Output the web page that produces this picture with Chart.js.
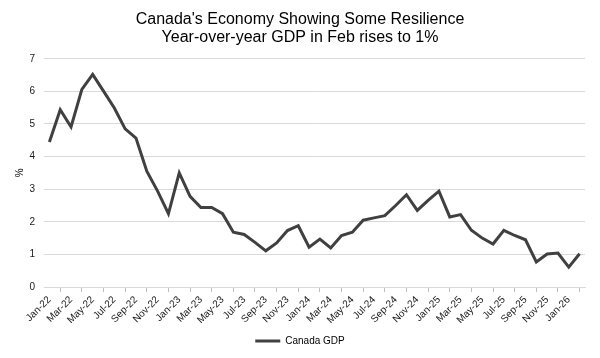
<!DOCTYPE html>
<html>
<head>
<meta charset="utf-8">
<script src="https://cdn.jsdelivr.net/npm/chart.js@4/dist/chart.umd.min.js"></script>
<style>
html,body{margin:0;padding:0;background:#fff;}
#wrap{width:600px;height:358px;position:relative;}
</style>
</head>
<body>
<div id="wrap"><canvas id="c" width="600" height="358"></canvas></div>
<script>
const months = ["Jan","Feb","Mar","Apr","May","Jun","Jul","Aug","Sep","Oct","Nov","Dec"];
const categories = [];
for (let y = 22; y <= 26; y++) {
  for (let m = 0; m < 12; m++) {
    if (y === 26 && m > 1) break;
    categories.push(months[m] + "-" + y);
  }
}
const gdpValues = [
  4.45, 5.44, 4.91, 6.06, 6.52, 6.01, 5.49, 4.85, 4.57, 3.55, 2.94, 2.25,
  3.50, 2.78, 2.44, 2.44, 2.25, 1.68, 1.61, 1.37, 1.11, 1.35, 1.73, 1.88,
  1.22, 1.47, 1.20, 1.58, 1.68, 2.05, 2.12, 2.19, 2.50, 2.83, 2.35, 2.66,
  2.94, 2.15, 2.22, 1.74, 1.50, 1.32, 1.74, 1.58, 1.45, 0.77, 1.01, 1.04,
  0.61, 1.02
];
const yTicks = [0,1,2,3,4,5,6,7];
const titleLines = ["Canada's Economy Showing Some Resilience", "Year-over-year GDP in Feb rises to 1%"];
const seriesName = "Canada GDP";

const FONT = "'Liberation Sans', Arial, sans-serif";

new Chart(document.getElementById('c'), {
  type: 'line',
  data: {
    labels: categories,
    datasets: [{
      label: seriesName,
      data: gdpValues,
      borderColor: '#404040',
      backgroundColor: '#404040',
      borderWidth: 3,
      pointRadius: 0,
      pointHoverRadius: 0,
      tension: 0,
      fill: false
    }]
  },
  options: {
    responsive: false,
    animation: false,
    layout: { padding: { left: 0, right: 0, top: 0, bottom: 2 } },
    plugins: {
      title: {
        display: true,
        text: titleLines,
        color: '#000',
        font: { family: FONT, size: 16, weight: 'normal', lineHeight: 1.15 },
        padding: { top: 10, bottom: 12 }
      },
      legend: {
        display: true,
        position: 'bottom',
        labels: {
          usePointStyle: true,
          pointStyle: 'line',
          pointStyleWidth: 25,
          color: '#000',
          font: { family: FONT, size: 10 },
          padding: 10
        }
      },
      tooltip: { enabled: false }
    },
    scales: {
      x: {
        type: 'category',
        offset: true,
        grid: {
          display: true,
          drawOnChartArea: false,
          drawTicks: true,
          tickLength: 5,
          color: '#bfbfbf',
          offset: true
        },
        border: { display: true, color: '#d9d9d9', width: 1 },
        ticks: {
          autoSkip: false,
          minRotation: 45,
          maxRotation: 45,
          color: '#1a1a1a',
          font: { family: FONT, size: 10 },
          padding: 2,
          callback: function(v, i) { return i % 2 === 0 ? categories[i] : null; }
        },
        afterFit: function(s) { s.height = 39; }
      },
      y: {
        min: 0,
        max: 7,
        afterBuildTicks: function(s) { s.ticks = yTicks.map(v => ({ value: v })); },
        grid: { color: '#d9d9d9', drawTicks: false, lineWidth: 1 },
        border: { display: false },
        ticks: {
          color: '#1a1a1a',
          font: { family: FONT, size: 10 },
          padding: 9
        },
        title: {
          display: true,
          text: '%',
          color: '#000',
          font: { family: FONT, size: 10 },
          padding: { top: 14, bottom: 0 }
        },
        afterFit: function(s) { s.width = 44; }
      },
      yRight: {
        position: 'right',
        display: true,
        min: 0,
        max: 7,
        grid: { drawOnChartArea: false, drawTicks: false, display: false },
        border: { display: false },
        ticks: { display: false },
        afterFit: function(s) { s.width = 15; }
      }
    }
  }
});
</script>
</body>
</html>
